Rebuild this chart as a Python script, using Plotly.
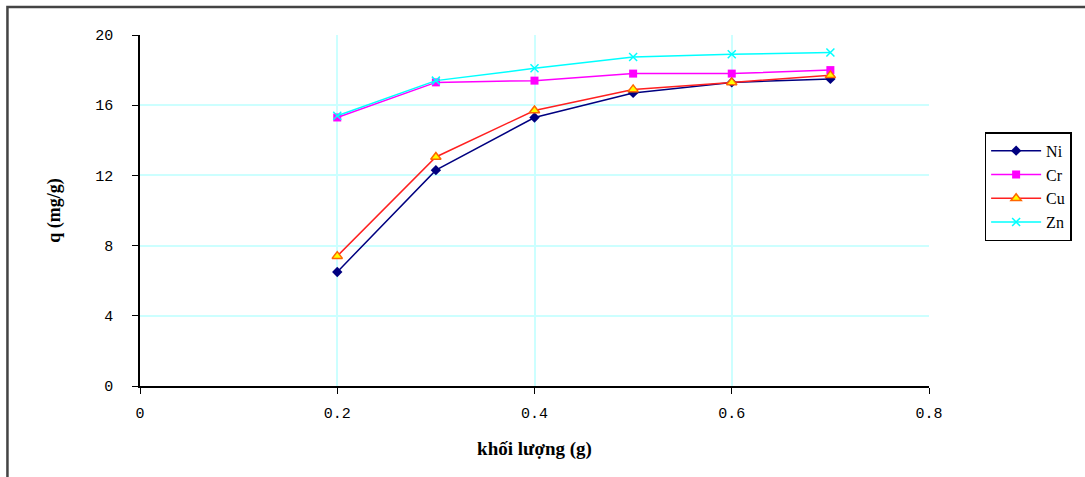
import plotly.graph_objects as go

mass = [0.2, 0.3, 0.4, 0.5, 0.6, 0.7]
ni = [6.5, 12.3, 15.3, 16.7, 17.3, 17.5]
cr = [15.3, 17.3, 17.4, 17.8, 17.8, 18.0]
cu = [7.4, 13.05, 15.7, 16.9, 17.3, 17.7]
zn = [15.4, 17.4, 18.1, 18.75, 18.9, 19.0]

x_ticks = [0, 0.2, 0.4, 0.6, 0.8]
x_tick_labels = ["0", "0.2", "0.4", "0.6", "0.8"]
y_ticks = [0, 4, 8, 12, 16, 20]

fig = go.Figure()
fig.add_trace(go.Scatter(x=mass, y=ni, name="Ni", mode="lines+markers",
                         line=dict(color="#000080", width=1.5),
                         marker=dict(symbol="diamond", size=8, color="#000080")))
fig.add_trace(go.Scatter(x=mass, y=cr, name="Cr", mode="lines+markers",
                         line=dict(color="#FF00FF", width=1.5),
                         marker=dict(symbol="square", size=8, color="#FF00FF")))
fig.add_trace(go.Scatter(x=mass, y=cu, name="Cu", mode="lines+markers",
                         line=dict(color="#FF2020", width=1.5),
                         marker=dict(symbol="triangle-up", size=9, color="#FFFF00",
                                     line=dict(color="#FF6600", width=1.5))))
fig.add_trace(go.Scatter(x=mass, y=zn, name="Zn", mode="lines+markers",
                         line=dict(color="#00FFFF", width=1.5),
                         marker=dict(symbol="x-thin-open", size=8,
                                     line=dict(color="#00E0E0", width=1.5))))

fig.update_layout(
    width=1085, height=477,
    margin=dict(l=140, r=156, t=35, b=91, autoexpand=False),
    paper_bgcolor="white", plot_bgcolor="white",
    font=dict(family="Liberation Mono", size=15, color="black"),
    xaxis=dict(range=[0, 0.8], tickvals=x_ticks, ticktext=x_tick_labels,
               showgrid=True, gridcolor="#CCFFFF", gridwidth=2,
               showline=True, linecolor="black", linewidth=1.5,
               ticks="outside", ticklen=6, tickcolor="black", zeroline=False,
               ticklabelstandoff=6,
               title=dict(text="<b>khối lượng (g)</b>", standoff=20,
                          font=dict(family="Liberation Serif", size=19))),
    yaxis=dict(range=[0, 20], tickvals=y_ticks,
               showgrid=True, gridcolor="#CCFFFF", gridwidth=2,
               showline=True, linecolor="black", linewidth=1.5,
               ticks="outside", ticklen=6, tickcolor="black", zeroline=False,
               ticklabelstandoff=16,
               title=dict(text="<b>q (mg/g)</b>", standoff=30,
                          font=dict(family="Liberation Serif", size=18))),
    legend=dict(x=1.0705, y=0.723, xanchor="left", yanchor="top",
                bordercolor="black", borderwidth=1.5, bgcolor="white",
                font=dict(family="Liberation Serif", size=16),
                itemwidth=50, tracegroupgap=0),
    shapes=[dict(type="rect", xref="paper", yref="paper",
                 x0=-0.168, x1=1.3, y0=-0.3, y1=1.08,
                 line=dict(color="#444444", width=2.5), layer="below")],
)

fig.write_html("out.html")
